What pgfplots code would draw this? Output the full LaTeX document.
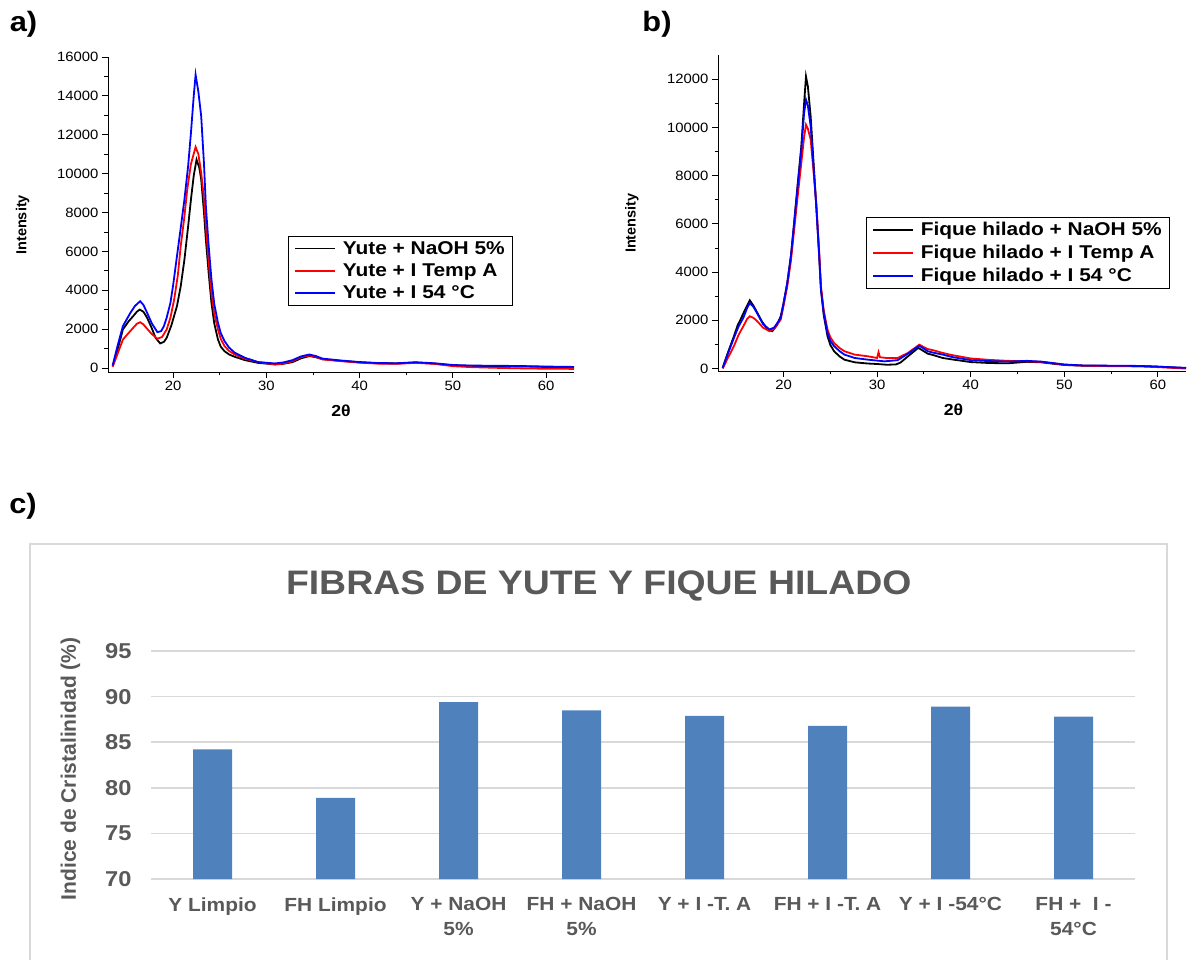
\documentclass[border=0pt]{standalone}
\usepackage{pgfplots}
\pgfplotsset{compat=1.18}
\usepackage{fontspec}
\setmainfont{Liberation Sans}
\newfontfamily\wide[FakeStretch=1.1]{Liberation Sans}
\newfontfamily\widel[FakeStretch=1.13]{Liberation Sans}
\definecolor{txtgray}{HTML}{595959}
\definecolor{gridc}{HTML}{D9D9D9}
\definecolor{barc}{HTML}{4F81BD}
\definecolor{framec}{HTML}{D9D9D9}

\pgfplotsset{
  xrdaxis/.style={
    scale only axis, anchor=south west,
    axis x line*=bottom, axis y line*=left,
    axis line style={line width=0.9pt},
    xmin=13, xmax=63,
    xtick={20,30,40,50,60}, minor x tick num=1,
    minor y tick num=1,
    tick align=outside, major tick length=6pt, minor tick length=3.5pt,
    every tick/.style={black, line width=0.9pt},
    tick label style={font=\wide\fontsize{13.5}{15}\selectfont},
    /pgf/number format/assume math mode=true,
    /pgf/number format/1000 sep={},
    scaled y ticks=false,
    xlabel={2θ}, ylabel={Intensity},
    xlabel style={font=\wide\bfseries\fontsize{16}{18}\selectfont, at={(axis description cs:0.5,-0.123)}, anchor=center},
    ylabel style={font=\bfseries\fontsize{14.5}{16}\selectfont, anchor=center},
    legend cell align=left,
    legend image code/.code={\draw[#1, line width=1.5pt] (0pt,0pt) -- (40pt,0pt);},
    legend style={draw=black, line width=0.8pt, font=\widel\bfseries\fontsize{18.5}{20}\selectfont, anchor=north west, inner xsep=6pt, inner ysep=3pt, row sep=4pt, column sep=5pt},
    every axis plot/.append style={line width=1.8pt},
  }
}

\begin{document}
\begin{tikzpicture}
\useasboundingbox (0pt,0pt) rectangle (1188pt,959pt);

% ---------- panel a ----------
\begin{axis}[xrdaxis,
  at={(108pt,587pt)}, width=466pt, height=315pt,
  ymin=-200, ymax=16000, ytick={0,2000,...,16000},
  ylabel style={at={(axis description cs:-0.183,0.467)}},
  legend style={at={(0.386,0.432)}},
]
\addplot[black] coordinates {(13.5,100)(14,900)(14.6,1990)(15.2,2400)(15.7,2670)(16.1,2900)(16.4,3010)(16.8,2900)(17.2,2590)(17.7,2050)(18.1,1560)(18.6,1270)(19.0,1350)(19.3,1560)(19.8,2200)(20.4,3190)(20.8,4200)(21.2,5580)(21.6,7300)(21.9,8670)(22.2,9900)(22.5,10720)(22.8,10300)(23.0,9700)(23.3,8000)(23.5,6610)(23.8,4900)(24.1,3360)(24.4,2300)(24.8,1470)(25.1,1100)(25.5,870)(26.0,700)(26.6,580)(27.7,410)(29.1,270)(30.9,190)(31.8,220)(32.8,310)(33.7,500)(34.6,620)(35.3,560)(36,460)(38,370)(40,300)(42,250)(44,240)(46,290)(48,230)(50,140)(52,110)(55,100)(58,80)(60,60)(63,40)};
\addlegendentry{Yute + NaOH 5\%}
\addplot[red] coordinates {(13.5,70)(14,700)(14.6,1470)(15.2,1800)(15.7,2070)(16.1,2280)(16.45,2360)(16.8,2250)(17.2,2020)(17.7,1750)(18.3,1510)(18.8,1600)(19.3,1990)(19.7,2600)(20.1,3530)(20.5,4800)(20.8,6270)(21.2,7800)(21.5,9180)(21.9,10500)(22.4,11370)(22.7,11000)(23.0,10040)(23.3,8700)(23.5,7300)(23.8,5500)(24.1,3870)(24.4,2800)(24.8,1990)(25.1,1500)(25.5,1130)(26.0,880)(26.6,700)(27.7,480)(29.1,310)(30.9,190)(31.8,230)(32.8,360)(33.7,560)(34.6,650)(35.3,580)(36,450)(38,360)(40,280)(42,230)(44,220)(46,270)(48,220)(50,100)(52,50)(55,10)(58,-20)(60,-30)(63,-40)};
\addlegendentry{Yute + I Temp A}
\addplot[blue] coordinates {(13.5,137)(14,1100)(14.6,2160)(15.0,2500)(15.4,2840)(15.9,3200)(16.45,3440)(16.8,3250)(17.2,2840)(17.7,2300)(18.3,1850)(18.7,1900)(19.0,2160)(19.3,2600)(19.7,3360)(20.0,4300)(20.4,5760)(20.8,7200)(21.2,8670)(21.6,10400)(21.9,12100)(22.2,14000)(22.4,15090)(22.7,14200)(23.0,12950)(23.3,10500)(23.5,8330)(23.8,6300)(24.1,4560)(24.4,3300)(24.8,2330)(25.1,1800)(25.5,1390)(26.0,1050)(26.6,790)(27.7,530)(29.1,310)(30.9,240)(31.8,290)(32.8,410)(33.7,600)(34.6,700)(35.3,620)(36,490)(38,390)(40,310)(42,260)(44,250)(46,300)(48,250)(50,160)(52,130)(55,120)(58,100)(60,80)(63,60)};
\addlegendentry{Yute + I 54 °C}
\end{axis}

% ---------- panel b ----------
\begin{axis}[xrdaxis,
  at={(718pt,588pt)}, width=468pt, height=316pt,
  ymin=-100, ymax=13000, ytick={0,2000,...,12000},
  ylabel style={at={(axis description cs:-0.184,0.468)}},
  xlabel style={at={(axis description cs:0.503,-0.123)}},
  legend style={at={(0.316,0.487)}},
]
\addplot[black] coordinates {(13.5,30)(14,600)(14.7,1340)(15.1,1800)(15.4,2030)(15.9,2450)(16.4,2830)(16.8,2600)(17.2,2310)(17.7,1950)(18.3,1620)(18.8,1550)(19.3,1800)(19.7,2170)(20.0,2700)(20.4,3550)(20.8,4700)(21.1,5900)(21.5,7600)(21.9,9210)(22.2,11000)(22.4,12110)(22.6,11700)(22.9,10450)(23.2,8600)(23.5,6730)(23.8,4700)(24.0,3270)(24.3,2200)(24.7,1340)(25.0,980)(25.4,720)(26.0,500)(26.5,370)(27.6,260)(29.0,210)(30.0,190)(31.0,160)(32.0,170)(32.5,250)(33.3,510)(34.4,860)(35.4,620)(36,560)(37,440)(38,380)(40,270)(42,230)(44,220)(46,280)(47.5,260)(50,150)(52,120)(55,110)(58,110)(60,80)(63,20)};
\addlegendentry{Fique hilado + NaOH 5\%}
\addplot[red] coordinates {(13.5,0)(14,400)(14.7,930)(15.2,1400)(15.7,1750)(16.1,2050)(16.4,2170)(16.8,2100)(17.2,1960)(17.8,1700)(18.5,1550)(19.0,1650)(19.7,2030)(20.0,2600)(20.4,3410)(20.8,4500)(21.1,5620)(21.5,7100)(21.9,8520)(22.2,9600)(22.4,10110)(22.6,9950)(22.9,9490)(23.2,8200)(23.5,6860)(23.8,4900)(24.0,3410)(24.3,2400)(24.7,1620)(25.0,1300)(25.4,1060)(26.0,850)(26.5,720)(27.6,580)(29.0,510)(30.0,440)(30.15,680)(30.3,470)(31.0,440)(32.2,440)(33.3,650)(34.5,990)(35.4,810)(36,760)(37,650)(38,560)(40,420)(42,360)(44,320)(46,300)(47.5,280)(50,160)(52,120)(55,100)(58,90)(60,60)(63,0)};
\addlegendentry{Fique hilado + I Temp A}
\addplot[blue] coordinates {(13.5,30)(14,560)(14.7,1270)(15.2,1750)(15.7,2100)(16.1,2500)(16.4,2720)(16.8,2550)(17.2,2280)(17.8,1850)(18.5,1620)(19.0,1700)(19.7,2100)(20.0,2700)(20.4,3550)(20.8,4700)(21.1,5900)(21.5,7500)(21.9,9070)(22.2,10600)(22.4,11150)(22.6,10900)(22.9,10040)(23.2,8400)(23.5,6730)(23.8,4800)(24.0,3270)(24.3,2300)(24.7,1480)(25.0,1150)(25.4,930)(26.0,720)(26.5,580)(27.6,440)(29.0,370)(30.8,300)(32.2,350)(33.3,620)(34.5,950)(35.4,720)(36,660)(37,580)(38,480)(40,350)(42,310)(44,290)(46,320)(47.5,290)(50,170)(52,130)(55,120)(58,110)(60,80)(63,30)};
\addlegendentry{Fique hilado + I 54 °C}
\end{axis}

% ---------- panel c ----------
\draw[framec, line width=1.5pt] (30pt,-5pt) -- (30pt,415pt) -- (1167pt,415pt) -- (1167pt,-5pt);
\begin{axis}[
  at={(151pt,80pt)}, anchor=south west, scale only axis, width=984pt, height=228pt,
  xmin=-0.5, xmax=7.5, ymin=70, ymax=95,
  axis line style={draw=none}, major tick length=0pt,
  ytick={70,75,...,95}, xtick={0,...,7},
  xticklabels={Y Limpio, FH Limpio, {Y + NaOH\\5\%}, {FH + NaOH\\5\%}, {Y + I -T. A}, {FH + I -T. A}, {Y + I -54°C}, {FH +\ \ I -\\54°C}},
  ymajorgrids, grid style={gridc, line width=1.6pt},
  /pgf/number format/assume math mode=true,
  yticklabel style={font=\wide\bfseries\fontsize{21.5}{24}\selectfont, text=txtgray, xshift=-16pt},
  xticklabel style={font=\wide\bfseries\fontsize{19}{25}\selectfont, text=txtgray, align=center, yshift=-15pt},
  ylabel={Indice de Cristalinidad (\%)},
  ylabel style={at={(axis description cs:-0.0818,0.483)}, anchor=center, rotate=0, font=\bfseries\fontsize{21}{23}\selectfont, text=txtgray},
  title={FIBRAS DE YUTE Y FIQUE HILADO},
  title style={at={(axis description cs:0.455,1.259)}, anchor=center, font=\wide\bfseries\fontsize{34}{38}\selectfont, text=txtgray},
]
\addplot[ybar, bar width=39pt, fill=barc, draw=none] coordinates {(0,84.2)(1,78.9)(2,89.4)(3,88.5)(4,87.9)(5,86.8)(6,88.9)(7,87.8)};
\end{axis}

% panel letters
\node[font=\wide\bfseries\fontsize{28}{30}\selectfont] at (23.5pt,935pt) {a)};
\node[font=\wide\bfseries\fontsize{28}{30}\selectfont] at (657pt,935pt) {b)};
\node[font=\wide\bfseries\fontsize{28}{30}\selectfont] at (23pt,453pt) {c)};
\end{tikzpicture}
\end{document}
